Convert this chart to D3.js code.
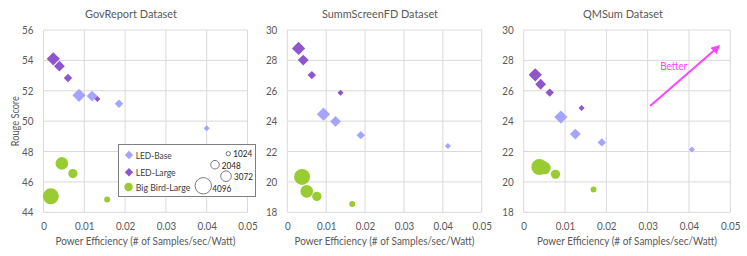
<!DOCTYPE html>
<html>
<head>
<meta charset="utf-8">
<script src="https://cdn.jsdelivr.net/npm/d3@7"></script>
<style>
  body { margin: 0; background: #fff; }
  text { font-family: Lato, sans-serif; fill: #595959; }
</style>
</head>
<body>
<div id="outer"></div>
<script>
////////// DATA //////////
const seqLens = [4096, 3072, 2048, 1024];
const models = ['LED-Base', 'LED-Large', 'Big Bird-Large'];
const datasets = ['GovReport Dataset', 'SummScreenFD Dataset', 'QMSum Dataset'];
const xTicks = [0, 0.01, 0.02, 0.03, 0.04, 0.05];
const yTicksGov = [44, 46, 48, 50, 52, 54, 56];
const yTicksOther = [18, 20, 22, 24, 26, 28, 30];

// power efficiency per seq length (4096, 3072, 2048, 1024)
const govLedBaseX = [0.0087, 0.0119, 0.0185, 0.0400];
const govLedBaseY = [51.70, 51.65, 51.15, 49.53];
const govLedLargeX = [0.0024, 0.0039, 0.0060, 0.0132];
const govLedLargeY = [54.10, 53.62, 52.84, 51.46];
const govBigBirdX = [0.0018, 0.0045, 0.0072, 0.0156];
const govBigBirdY = [45.05, 47.22, 46.55, 44.85];

const ssLedBaseX = [0.0093, 0.0124, 0.0189, 0.0413];
const ssLedBaseY = [24.46, 23.98, 23.08, 22.37];
const ssLedLargeX = [0.0029, 0.0041, 0.0063, 0.0137];
const ssLedLargeY = [28.79, 28.02, 27.03, 25.87];
const ssBigBirdX = [0.0038, 0.0050, 0.0076, 0.0167];
const ssBigBirdY = [20.33, 19.38, 19.05, 18.55];

const qmLedBaseX = [0.0090, 0.0125, 0.0189, 0.0407];
const qmLedBaseY = [24.27, 23.15, 22.60, 22.14];
const qmLedLargeX = [0.0028, 0.0041, 0.0063, 0.0140];
const qmLedLargeY = [27.05, 26.43, 25.88, 24.87];
const qmBigBirdX = [0.0038, 0.0050, 0.0077, 0.0169];
const qmBigBirdY = [20.98, 20.92, 20.50, 19.50];

// "Better" arrow in QMSum panel (data coords)
const arrowFrom = [0.0306, 25.0];
const arrowTo = [0.0469, 28.85];

////////// SIZING //////////
const width = 747, height = 256;
const colors = { 'LED-Base': '#a5a5ff', 'LED-Large': '#8f55cc', 'Big Bird-Large': '#99cc33' };
const panels = [
  { title: datasets[0], left: 43.5, right: 247.5, titleX: 131, titleW: 92, yDomain: [44, 56], yTicks: yTicksGov,
    series: [[govLedBaseX, govLedBaseY], [govLedLargeX, govLedLargeY], [govBigBirdX, govBigBirdY]] },
  { title: datasets[1], left: 287.3, right: 481.7, titleX: 380, titleW: 116, yDomain: [18, 30], yTicks: yTicksOther,
    series: [[ssLedBaseX, ssLedBaseY], [ssLedLargeX, ssLedLargeY], [ssBigBirdX, ssBigBirdY]] },
  { title: datasets[2], left: 523.7, right: 730.3, titleX: 623, titleW: 80, yDomain: [18, 30], yTicks: yTicksOther,
    series: [[qmLedBaseX, qmLedBaseY], [qmLedLargeX, qmLedLargeY], [qmBigBirdX, qmBigBirdY]] }
];
const plotTop = 30, plotBottom = 212.3;
const squeeze = 0.88;  // Lato is wider than the Calibri in the original

// marker size by sequence length
const circleR = d3.scaleLinear().domain([1024, 4096]).range([3, 8]);
const diamondR = d3.scaleLinear().domain([1024, 4096]).range([3, 6.6]);

const diamondPath = r => `M0,${-r}L${r},0L0,${r}L${-r},0Z`;

// force a text to a given width (or squeeze its natural width)
function fit(sel, w) {
  sel.each(function () {
    const len = w || this.getComputedTextLength() * squeeze;
    d3.select(this).attr('textLength', len).attr('lengthAdjust', 'spacingAndGlyphs');
  });
  return sel;
}

////////// RENDER //////////
const svg = d3.select('#outer').append('svg')
  .attr('width', width)
  .attr('height', height);

panels.forEach((p, pi) => {
  const x = d3.scaleLinear().domain([0, 0.05]).range([p.left, p.right]);
  const y = d3.scaleLinear().domain(p.yDomain).range([plotBottom, plotTop]);
  const g = svg.append('g');

  // grid
  g.selectAll('.vgrid').data(xTicks).join('line')
    .attr('x1', d => x(d)).attr('x2', d => x(d))
    .attr('y1', plotTop).attr('y2', plotBottom)
    .attr('stroke', '#d9d9d9').attr('stroke-width', 1);
  g.selectAll('.hgrid').data(p.yTicks).join('line')
    .attr('x1', p.left).attr('x2', p.right)
    .attr('y1', d => y(d)).attr('y2', d => y(d))
    .attr('stroke', '#d9d9d9').attr('stroke-width', 1);

  // axes (labels only, grid does the lines)
  const xAxis = g.append('g').attr('transform', `translate(0,${plotBottom})`)
    .call(d3.axisBottom(x).tickValues(xTicks).tickSize(0).tickPadding(9.5).tickFormat(d => d === 0 ? '0' : d3.format('.2f')(d)));
  const yAxis = g.append('g').attr('transform', `translate(${p.left},0)`)
    .call(d3.axisLeft(y).tickValues(p.yTicks).tickSize(0).tickPadding(10));
  [xAxis, yAxis].forEach(a => {
    a.select('.domain').remove();
    a.selectAll('text').style('font-family', 'Lato, sans-serif').style('font-size', '11.2px').attr('fill', '#595959');
    fit(a.selectAll('text'));
  });

  // title + x label
  fit(g.append('text').attr('x', p.titleX).attr('y', 17.5).attr('text-anchor', 'middle')
    .style('font-size', '12.2px').text(p.title), p.titleW);
  fit(g.append('text').attr('x', (p.left + p.right) / 2).attr('y', 244.5).attr('text-anchor', 'middle')
    .style('font-size', '11px').text('Power Efficiency (# of Samples/sec/Watt)'), 180);

  // marks
  p.series.forEach((s, si) => {
    const model = models[si];
    const pts = seqLens.map((len, i) => ({ len, x: s[0][i], y: s[1][i] }));
    if (model === 'Big Bird-Large') {
      g.selectAll(null).data(pts).join('circle')
        .attr('cx', d => x(d.x)).attr('cy', d => y(d.y))
        .attr('r', d => circleR(d.len))
        .attr('fill', colors[model]);
    } else {
      g.selectAll(null).data(pts).join('path')
        .attr('transform', d => `translate(${x(d.x)},${y(d.y)})`)
        .attr('d', d => diamondPath(diamondR(d.len)))
        .attr('fill', colors[model]);
    }
  });

  if (pi === 0) {
    fit(g.append('text').attr('transform', `translate(18.5,${(plotTop + plotBottom) / 2}) rotate(-90)`)
      .attr('text-anchor', 'middle').style('font-size', '11px').text('Rouge Score'), 50);
  }

  if (pi === 2) {
    const defs = svg.append('defs');
    defs.append('marker').attr('id', 'arrowHead')
      .attr('viewBox', '0 0 10 10').attr('refX', 6).attr('refY', 5)
      .attr('markerWidth', 4.5).attr('markerHeight', 4.5).attr('orient', 'auto')
      .append('path').attr('d', 'M0,0L10,5L0,10Z').attr('fill', '#ff44ff');
    g.append('line')
      .attr('x1', x(arrowFrom[0])).attr('y1', y(arrowFrom[1]))
      .attr('x2', x(arrowTo[0])).attr('y2', y(arrowTo[1]))
      .attr('stroke', '#ff44ff').attr('stroke-width', 2)
      .attr('marker-end', 'url(#arrowHead)');
    fit(g.append('text').attr('x', x(0.0363)).attr('y', y(27.35))
      .attr('text-anchor', 'middle').style('font-size', '11px').style('fill', '#ff44ff').text('Better'), 27);
  }

  // legend (first panel only)
  if (pi === 0) {
    const lg = g.append('g');
    lg.append('rect').attr('x', 118.5).attr('y', 144.5).attr('width', 137).attr('height', 52)
      .attr('fill', '#fff').attr('stroke', '#7f7f7f').attr('stroke-width', 1);
    const legendW = [36, 40, 54.7];
    models.forEach((m, i) => {
      const ly = [155, 172.3, 187][i];
      if (m === 'Big Bird-Large') {
        lg.append('circle').attr('cx', 128.5).attr('cy', ly).attr('r', 4.2).attr('fill', colors[m]);
      } else {
        lg.append('path').attr('transform', `translate(129,${ly})`).attr('d', diamondPath(4.2)).attr('fill', colors[m]);
      }
      fit(lg.append('text').attr('x', 135.7).attr('y', ly + 3.8).style('font-size', '10.4px').style('fill', '#404040').text(m), legendW[i]);
    });
    const sizeLegend = [
      { len: 1024, cx: 228.3, cy: 153.7, r: 2.2, tx: 233.3, ty: 157.4 },
      { len: 2048, cx: 215, cy: 164.7, r: 4.3, tx: 221.7, ty: 168.5 },
      { len: 3072, cx: 226, cy: 176.2, r: 5.3, tx: 234, ty: 180 },
      { len: 4096, cx: 203.3, cy: 185.8, r: 8.2, tx: 212.3, ty: 191.7 }
    ];
    sizeLegend.forEach(s => {
      lg.append('circle').attr('cx', s.cx).attr('cy', s.cy).attr('r', s.r)
        .attr('fill', '#fff').attr('stroke', '#595959').attr('stroke-width', 0.8);
      fit(lg.append('text').attr('x', s.tx).attr('y', s.ty).style('font-size', '10px').style('fill', '#262626').text(s.len), 19);
    });
  }
});
</script>
</body>
</html>
